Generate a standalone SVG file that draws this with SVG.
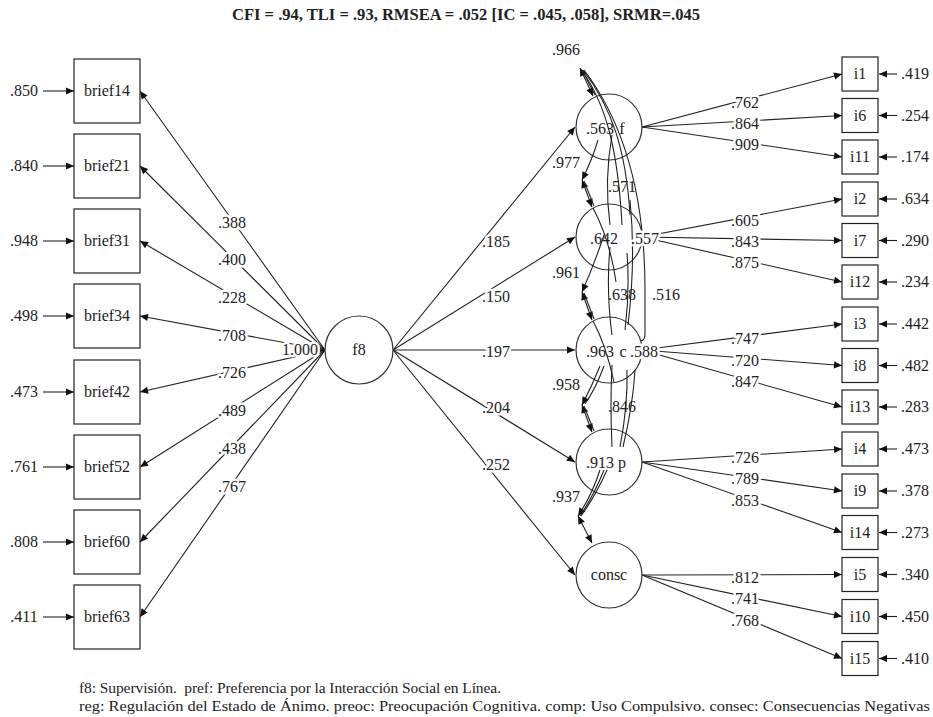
<svg xmlns="http://www.w3.org/2000/svg" width="933" height="717" viewBox="0 0 933 717">
<defs>
<marker id="ah" viewBox="0 0 10 10" refX="10" refY="5" markerWidth="10" markerHeight="8" orient="auto-start-reverse" markerUnits="userSpaceOnUse"><path d="M0,0.5 L10,5 L0,9.5 z" fill="#111"/></marker>
</defs>
<style>
text{font-family:"Liberation Serif","Times New Roman",serif;font-size:16px;fill:#222}
.lab{text-anchor:middle;stroke:#fff;stroke-width:5px;paint-order:stroke;stroke-linejoin:round}
.in{text-anchor:middle}
.box{fill:#fff;stroke:#222;stroke-width:1.2}
.circ{fill:#fff;stroke:#333;stroke-width:1.2}
.ln{stroke:#222;stroke-width:1.1;fill:none}
.ar{stroke:#222;stroke-width:1.1;fill:none;marker-end:url(#ah)}
.dar{stroke:#222;stroke-width:1.1;fill:none;marker-end:url(#ah);marker-start:url(#ah)}
.title{font-weight:bold;font-size:16px;text-anchor:middle}
.foot{font-size:15.5px}
</style>
<rect width="933" height="717" fill="#fff"/>
<text class="title" x="466" y="20" textLength="468" lengthAdjust="spacingAndGlyphs">CFI = .94, TLI = .93, RMSEA = .052 [IC = .045, .058], SRMR=.045</text>

<g id="connectors">
<line class="ar" x1="43" y1="91" x2="74" y2="91"/>
<line class="ar" x1="43" y1="166" x2="74" y2="166"/>
<line class="ar" x1="43" y1="241" x2="74" y2="241"/>
<line class="ar" x1="43" y1="316" x2="74" y2="316"/>
<line class="ar" x1="43" y1="392" x2="74" y2="392"/>
<line class="ar" x1="43" y1="467" x2="74" y2="467"/>
<line class="ar" x1="43" y1="542" x2="74" y2="542"/>
<line class="ar" x1="43" y1="617" x2="74" y2="617"/>
<line class="ar" x1="325" y1="350" x2="140" y2="91"/>
<line class="ar" x1="325" y1="350" x2="140" y2="166"/>
<line class="ar" x1="325" y1="350" x2="140" y2="241"/>
<line class="ar" x1="325" y1="350" x2="140" y2="316"/>
<line class="ar" x1="325" y1="350" x2="140" y2="392"/>
<line class="ar" x1="325" y1="350" x2="140" y2="467"/>
<line class="ar" x1="325" y1="350" x2="140" y2="542"/>
<line class="ar" x1="325" y1="350" x2="140" y2="617"/>
<line class="ar" x1="316" y1="350" x2="325" y2="350"/>
<line class="ar" x1="393" y1="350" x2="575" y2="127"/>
<line class="ar" x1="393" y1="350" x2="575" y2="237"/>
<line class="ar" x1="393" y1="350" x2="575" y2="350"/>
<line class="ar" x1="393" y1="350" x2="575" y2="462"/>
<line class="ar" x1="393" y1="350" x2="575" y2="575"/>
<line class="ar" x1="642" y1="127" x2="842" y2="74"/>
<line class="ar" x1="642" y1="127" x2="842" y2="115.5"/>
<line class="ar" x1="642" y1="127" x2="842" y2="157"/>
<line class="ar" x1="642" y1="237" x2="842" y2="199"/>
<line class="ar" x1="642" y1="237" x2="842" y2="240.5"/>
<line class="ar" x1="642" y1="237" x2="842" y2="282"/>
<line class="ar" x1="642" y1="350" x2="842" y2="324"/>
<line class="ar" x1="642" y1="350" x2="842" y2="365.5"/>
<line class="ar" x1="642" y1="350" x2="842" y2="407"/>
<line class="ar" x1="642" y1="462" x2="842" y2="449"/>
<line class="ar" x1="642" y1="462" x2="842" y2="491"/>
<line class="ar" x1="642" y1="462" x2="842" y2="532.5"/>
<line class="ar" x1="642" y1="575" x2="842" y2="574.5"/>
<line class="ar" x1="642" y1="575" x2="842" y2="616.5"/>
<line class="ar" x1="642" y1="575" x2="842" y2="658.5"/>
<line class="ar" x1="897" y1="74" x2="879" y2="74"/>
<line class="ar" x1="897" y1="115.5" x2="879" y2="115.5"/>
<line class="ar" x1="897" y1="157" x2="879" y2="157"/>
<line class="ar" x1="897" y1="199" x2="879" y2="199"/>
<line class="ar" x1="897" y1="240.5" x2="879" y2="240.5"/>
<line class="ar" x1="897" y1="282" x2="879" y2="282"/>
<line class="ar" x1="897" y1="324" x2="879" y2="324"/>
<line class="ar" x1="897" y1="365.5" x2="879" y2="365.5"/>
<line class="ar" x1="897" y1="407" x2="879" y2="407"/>
<line class="ar" x1="897" y1="449" x2="879" y2="449"/>
<line class="ar" x1="897" y1="491" x2="879" y2="491"/>
<line class="ar" x1="897" y1="532.5" x2="879" y2="532.5"/>
<line class="ar" x1="897" y1="574.5" x2="879" y2="574.5"/>
<line class="ar" x1="897" y1="616.5" x2="879" y2="616.5"/>
<line class="ar" x1="897" y1="658.5" x2="879" y2="658.5"/>
</g>

<g id="nodes">
<g id="brief14"><rect class="box" x="74" y="59" width="66" height="64"/><text class="in" x="107" y="96">brief14</text></g>
<g id="brief21"><rect class="box" x="74" y="134" width="66" height="64"/><text class="in" x="107" y="171">brief21</text></g>
<g id="brief31"><rect class="box" x="74" y="209" width="66" height="64"/><text class="in" x="107" y="246">brief31</text></g>
<g id="brief34"><rect class="box" x="74" y="284" width="66" height="64"/><text class="in" x="107" y="321">brief34</text></g>
<g id="brief42"><rect class="box" x="74" y="360" width="66" height="64"/><text class="in" x="107" y="397">brief42</text></g>
<g id="brief52"><rect class="box" x="74" y="435" width="66" height="64"/><text class="in" x="107" y="472">brief52</text></g>
<g id="brief60"><rect class="box" x="74" y="510" width="66" height="64"/><text class="in" x="107" y="547">brief60</text></g>
<g id="brief63"><rect class="box" x="74" y="585" width="66" height="64"/><text class="in" x="107" y="622">brief63</text></g>

<g id="f8"><circle class="circ" cx="359" cy="350" r="34"/><text class="in" x="359" y="355">f8</text></g>
<g id="pref"><circle class="circ" cx="609" cy="127" r="33"/></g>
<g id="reg"><circle class="circ" cx="609" cy="237" r="33"/></g>
<g id="preoc"><circle class="circ" cx="609" cy="350" r="33"/></g>
<g id="comp"><circle class="circ" cx="609" cy="462" r="33"/></g>
<g id="consc"><circle class="circ" cx="609" cy="575" r="33"/><text class="in" x="609" y="580">consc</text></g>

<g id="i1"><rect class="box" x="842" y="57" width="36" height="34"/><text class="in" x="860" y="79">i1</text></g>
<g id="i6"><rect class="box" x="842" y="98.5" width="36" height="34"/><text class="in" x="860" y="120.5">i6</text></g>
<g id="i11"><rect class="box" x="842" y="140" width="36" height="34"/><text class="in" x="860" y="162">i11</text></g>
<g id="i2"><rect class="box" x="842" y="182" width="36" height="34"/><text class="in" x="860" y="204">i2</text></g>
<g id="i7"><rect class="box" x="842" y="223.5" width="36" height="34"/><text class="in" x="860" y="245.5">i7</text></g>
<g id="i12"><rect class="box" x="842" y="265" width="36" height="34"/><text class="in" x="860" y="287">i12</text></g>
<g id="i3"><rect class="box" x="842" y="307" width="36" height="34"/><text class="in" x="860" y="329">i3</text></g>
<g id="i8"><rect class="box" x="842" y="348.5" width="36" height="34"/><text class="in" x="860" y="370.5">i8</text></g>
<g id="i13"><rect class="box" x="842" y="390" width="36" height="34"/><text class="in" x="860" y="412">i13</text></g>
<g id="i4"><rect class="box" x="842" y="432" width="36" height="34"/><text class="in" x="860" y="454">i4</text></g>
<g id="i9"><rect class="box" x="842" y="474" width="36" height="34"/><text class="in" x="860" y="496">i9</text></g>
<g id="i14"><rect class="box" x="842" y="515.5" width="36" height="34"/><text class="in" x="860" y="537.5">i14</text></g>
<g id="i5"><rect class="box" x="842" y="557.5" width="36" height="34"/><text class="in" x="860" y="579.5">i5</text></g>
<g id="i10"><rect class="box" x="842" y="599.5" width="36" height="34"/><text class="in" x="860" y="621.5">i10</text></g>
<g id="i15"><rect class="box" x="842" y="641.5" width="36" height="34"/><text class="in" x="860" y="663.5">i15</text></g>
</g>

<g id="covariances">
<path class="dar" d="M580,68 L593,96"/><path class="ln" d="M582,70 L595,95"/>
<path class="dar" d="M582,180 L592,207"/><path class="ln" d="M584,181 L594,206"/>
<path class="dar" d="M582,292 L592,320"/><path class="ln" d="M584,293 L594,319"/>
<path class="dar" d="M582,405 L592,432"/><path class="ln" d="M584,406 L594,431"/>
<path class="dar" d="M578,516 L592,543"/>
<path class="ln" d="M582,71 C606,104 618,150 622,225"/>
<path class="ln" d="M583,70 C612,108 626,150 630,215"/>
<path class="ln" d="M584,70 C622,120 645,190 645,290 L645,334 Q645,340 641,341"/>
<path class="ln" d="M612,135 Q604,180 610,225"/>
<path class="ar" d="M598,140 Q592,160 582,180"/>
<path class="ln" d="M593,208 Q610,240 616,282"/>
<path class="ar" d="M604,235 Q594,265 582,292"/>
<path class="ln" d="M610,247 Q606,290 612,335"/>
<path class="ln" d="M627,253 Q630,290 625,330"/>
<path class="ln" d="M630,200 Q636,260 628,325"/>
<path class="ln" d="M593,321 Q606,345 614,382"/>
<path class="ar" d="M600,366 Q592,386 582,405"/>
<path class="ln" d="M604,366 Q596,388 585,404"/>
<path class="ln" d="M612,365 Q610,405 612,447"/>
<path class="ln" d="M627,370 Q628,405 620,447"/>
<path class="ln" d="M635,370 Q633,405 623,447"/>
<path class="ar" d="M600,470 Q592,495 578,516"/>
<path class="ln" d="M604,470 Q594,495 580,516"/>
<path class="ln" d="M607,470 Q596,495 581,516"/>
</g>

<g id="labels">
<text class="in" x="24" y="96">.850</text>
<text class="in" x="24" y="171">.840</text>
<text class="in" x="24" y="246">.948</text>
<text class="in" x="24" y="321">.498</text>
<text class="in" x="24" y="397">.473</text>
<text class="in" x="24" y="472">.761</text>
<text class="in" x="24" y="547">.808</text>
<text class="in" x="24" y="622">.411</text>

<text class="lab" x="232" y="228">.388</text>
<text class="lab" x="232" y="265">.400</text>
<text class="lab" x="232" y="303">.228</text>
<text class="lab" x="232" y="341">.708</text>
<text class="lab" x="232" y="378">.726</text>
<text class="lab" x="232" y="416">.489</text>
<text class="lab" x="232" y="454">.438</text>
<text class="lab" x="232" y="492">.767</text>
<text class="lab" x="300" y="355">1.000</text>

<text class="lab" x="496" y="247">.185</text>
<text class="lab" x="496" y="302">.150</text>
<text class="lab" x="496" y="357">.197</text>
<text class="lab" x="496" y="413">.204</text>
<text class="lab" x="496" y="470">.252</text>

<text class="lab" x="745" y="108">.762</text>
<text class="lab" x="745" y="129">.864</text>
<text class="lab" x="745" y="150">.909</text>
<text class="lab" x="745" y="226">.605</text>
<text class="lab" x="745" y="247">.843</text>
<text class="lab" x="745" y="268">.875</text>
<text class="lab" x="745" y="344">.747</text>
<text class="lab" x="745" y="366">.720</text>
<text class="lab" x="745" y="387">.847</text>
<text class="lab" x="745" y="463">.726</text>
<text class="lab" x="745" y="484">.789</text>
<text class="lab" x="745" y="506">.853</text>
<text class="lab" x="745" y="583">.812</text>
<text class="lab" x="745" y="604">.741</text>
<text class="lab" x="745" y="626">.768</text>

<text x="901" y="79">.419</text>
<text x="901" y="120.5">.254</text>
<text x="901" y="162">.174</text>
<text x="901" y="204">.634</text>
<text x="901" y="245.5">.290</text>
<text x="901" y="287">.234</text>
<text x="901" y="329">.442</text>
<text x="901" y="370.5">.482</text>
<text x="901" y="412">.283</text>
<text x="901" y="454">.473</text>
<text x="901" y="496">.378</text>
<text x="901" y="537.5">.273</text>
<text x="901" y="579.5">.340</text>
<text x="901" y="621.5">.450</text>
<text x="901" y="663.5">.410</text>

<text class="in" x="566" y="55">.966</text>
<text class="in" x="600" y="134">.563</text>
<text class="in" x="622" y="134">f</text>
<text class="in" x="566" y="168">.977</text>
<text class="in" x="622" y="192">.571</text>
<text class="in" x="604" y="244">.642</text>
<text class="lab" x="645" y="244">.557</text>
<text class="in" x="566" y="278">.961</text>
<text class="in" x="622" y="300">.638</text>
<text class="in" x="666" y="300">.516</text>
<text class="in" x="600" y="357">.963</text>
<text class="in" x="623" y="357">c</text>
<text class="lab" x="644" y="357">.588</text>
<text class="in" x="566" y="390">.958</text>
<text class="in" x="622" y="412">.846</text>
<text class="in" x="600" y="468">.913</text>
<text class="in" x="622" y="468">p</text>
<text class="in" x="566" y="502">.937</text>
</g>

<text class="foot" x="79" y="693" xml:space="preserve" textLength="422" lengthAdjust="spacing">f8: Supervisión.  pref: Preferencia por la Interacción Social en Línea.</text>
<text class="foot" x="79" y="711" textLength="851" lengthAdjust="spacingAndGlyphs">reg: Regulación del Estado de Ánimo. preoc: Preocupación Cognitiva. comp: Uso Compulsivo. consec: Consecuencias Negativas</text>
</svg>
